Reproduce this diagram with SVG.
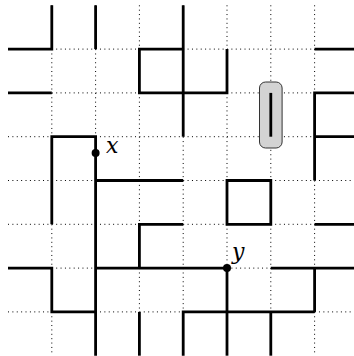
<svg xmlns="http://www.w3.org/2000/svg" width="354" height="356" viewBox="0 0 354 356">
<style>
.grid{stroke:#000;stroke-width:1;stroke-dasharray:1 3.38;fill:none}
.e{stroke:#000;stroke-width:2.8;fill:none;stroke-linejoin:miter;stroke-linecap:butt}
.lbl{font-family:"DejaVu Serif","Liberation Serif",serif;font-style:italic;font-size:22px;fill:#000}
</style>
<rect width="354" height="356" fill="#fff"/>
<g id="grid" class="grid">
<path d="M8 49.1H358.4M8 92.9H358.4M8 136.7H358.4M8 180.5H358.4M8 224.3H358.4M8 268.1H358.4M8 311.9H358.4"/>
<path d="M51.8 5.3V355.7M95.6 5.3V355.7M139.4 5.3V355.7M183.2 5.3V355.7M227 5.3V355.7M270.8 5.3V355.7M314.6 5.3V355.7"/>
</g>
<g id="connectors" class="e">
<polyline points="8,49.1 51.8,49.1 51.8,5.3"/>
<polyline points="95.6,5.3 95.6,49.1"/>
<polyline points="8,92.9 51.8,92.9"/>
<polyline points="183.2,49.1 139.4,49.1 139.4,92.9 227,92.9 227,49.1"/>
<polyline points="183.2,5.3 183.2,136.7"/>
<polyline points="358.4,49.1 314.6,49.1"/>
<polyline points="358.4,92.9 314.6,92.9 314.6,180.5"/>
<polyline points="314.6,136.7 358.4,136.7"/>
<polyline points="51.8,224.3 51.8,136.7 95.6,136.7 95.6,355.7"/>
<polyline points="95.6,180.5 183.2,180.5"/>
<polygon points="227,180.5 270.8,180.5 270.8,224.3 227,224.3"/>
<polyline points="139.4,268.1 139.4,224.3 183.2,224.3"/>
<polyline points="8,268.1 51.8,268.1 51.8,311.9 95.6,311.9"/>
<polyline points="95.6,268.1 227,268.1"/>
<polyline points="227,268.1 227,355.7"/>
<polyline points="139.4,311.9 139.4,355.7"/>
<polyline points="358.4,224.3 314.6,224.3"/>
<polyline points="270.8,268.1 358.4,268.1"/>
<polyline points="314.6,268.1 314.6,311.9"/>
<polyline points="183.2,355.7 183.2,311.9 314.6,311.9"/>
<polyline points="270.8,311.9 270.8,355.7"/>
</g>
<g id="highlight">
<rect x="259.5" y="82" width="22.6" height="66" rx="6" ry="6" fill="#d3d3d3" stroke="#333" stroke-width="1"/>
<line x1="270.8" y1="92.9" x2="270.8" y2="136.7" stroke="#000" stroke-width="2.8"/>
</g>
<g id="node-x">
<circle cx="95.6" cy="153" r="4" fill="#000"/>
<text class="lbl" x="106" y="152.5">x</text>
</g>
<g id="node-y">
<circle cx="227" cy="268.1" r="4" fill="#000"/>
<text class="lbl" x="232" y="258.5">y</text>
</g>
</svg>
